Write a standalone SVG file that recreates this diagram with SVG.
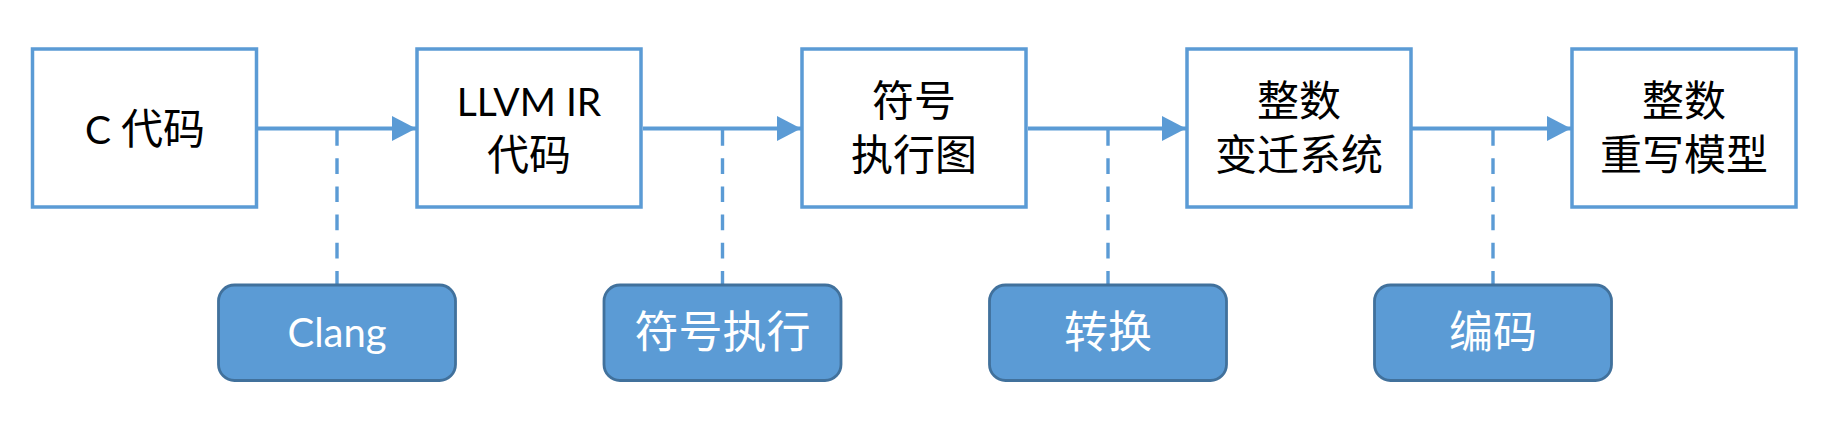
<svg xmlns="http://www.w3.org/2000/svg" width="1825" height="442" viewBox="0 0 1825 442">
<defs>
<style>
.box{fill:#FFFFFF;stroke:#5B9BD5;stroke-width:3.5}
.step{fill:#5B9BD5;stroke:#41719C;stroke-width:2.8}
.t{font-family:"Lato","Noto Sans CJK SC",sans-serif;text-anchor:middle;fill:#000000}
.cjk{font-size:42px}
.lat{font-size:39px}
.w{font-family:"Lato","Noto Sans CJK SC",sans-serif;text-anchor:middle;fill:#FFFFFF;font-size:44px}
.wl{font-size:40px}
.arrow{stroke:#5B9BD5;stroke-width:4;fill:none}
.dash{stroke:#5B9BD5;stroke-width:3.4;fill:none;stroke-dasharray:15.7 12.5}
</style>
<marker id="ah" viewBox="0 0 24 25" refX="24" refY="12.5" markerWidth="24" markerHeight="25" markerUnits="userSpaceOnUse" orient="auto">
<path d="M0,0 L24,12.5 L0,25 Z" fill="#5B9BD5"/>
</marker>
</defs>
<rect width="1825" height="442" fill="#FFFFFF"/>
<g id="connectors">
<line class="arrow" x1="258" y1="128.5" x2="416" y2="128.5" marker-end="url(#ah)"/>
<line class="arrow" x1="643" y1="128.5" x2="801" y2="128.5" marker-end="url(#ah)"/>
<line class="arrow" x1="1028" y1="128.5" x2="1186" y2="128.5" marker-end="url(#ah)"/>
<line class="arrow" x1="1412" y1="128.5" x2="1571" y2="128.5" marker-end="url(#ah)"/>
<line class="dash" x1="337" y1="130" x2="337" y2="285"/>
<line class="dash" x1="722.5" y1="130" x2="722.5" y2="285"/>
<line class="dash" x1="1108" y1="130" x2="1108" y2="285"/>
<line class="dash" x1="1493" y1="130" x2="1493" y2="285"/>
</g>
<g id="node-c">
<rect class="box" x="32.5" y="49" width="224" height="158"/>
<text class="t" x="145" y="144"><tspan class="lat">C </tspan><tspan class="cjk">代码</tspan></text>
</g>
<g id="node-llvm">
<rect class="box" x="417" y="49" width="224" height="158"/>
<text class="t lat" x="529" y="116">LLVM IR</text>
<text class="t cjk" x="529" y="170">代码</text>
</g>
<g id="node-seg">
<rect class="box" x="802" y="49" width="224" height="158"/>
<text class="t cjk" x="914" y="116">符号</text>
<text class="t cjk" x="914" y="170">执行图</text>
</g>
<g id="node-its">
<rect class="box" x="1187" y="49" width="224" height="158"/>
<text class="t cjk" x="1299" y="116">整数</text>
<text class="t cjk" x="1299" y="170">变迁系统</text>
</g>
<g id="node-itrs">
<rect class="box" x="1572" y="49" width="224" height="158"/>
<text class="t cjk" x="1684" y="116">整数</text>
<text class="t cjk" x="1684" y="170">重写模型</text>
</g>
<g id="step-clang">
<rect class="step" x="218.5" y="285" width="237" height="95.5" rx="16" ry="16"/>
<text class="w wl" x="337" y="347">Clang</text>
</g>
<g id="step-symexec">
<rect class="step" x="604" y="285" width="237" height="95.5" rx="16" ry="16"/>
<text class="w" x="722.5" y="348">符号执行</text>
</g>
<g id="step-convert">
<rect class="step" x="989.5" y="285" width="237" height="95.5" rx="16" ry="16"/>
<text class="w" x="1108" y="348">转换</text>
</g>
<g id="step-encode">
<rect class="step" x="1374.5" y="285" width="237" height="95.5" rx="16" ry="16"/>
<text class="w" x="1493" y="348">编码</text>
</g>
</svg>
